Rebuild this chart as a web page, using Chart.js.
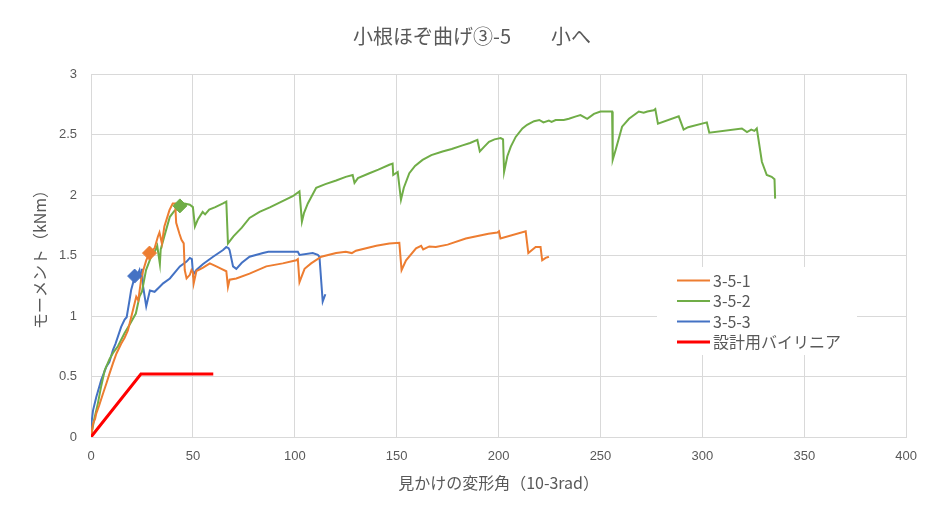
<!DOCTYPE html>
<html>
<head>
<meta charset="utf-8">
<script src="https://cdn.jsdelivr.net/npm/chart.js@4/dist/chart.umd.min.js"></script>
<style>
  html, body { margin: 0; padding: 0; background: #ffffff; }
  #wrap { width: 929px; height: 518px; }
</style>
</head>
<body>
<div id="wrap"><canvas id="c" width="929" height="518"></canvas></div>
<script>
// Moment vs. apparent rotation angle for the three specimens plus the design bilinear line.
const chartTitle = '小根ほぞ曲げ③-5　　小へ';
const xAxisTitle = '見かけの変形角（10-3rad）';
const yAxisTitle = 'モーメント（kNm）';
const seriesNames = ['3-5-1', '3-5-2', '3-5-3', '設計用バイリニア'];
const seriesColors = ['#ED7D31', '#70AD47', '#4472C4', '#FF0000'];
const xTicks = [0, 50, 100, 150, 200, 250, 300, 350, 400];
const yTicks = [0, 0.5, 1, 1.5, 2, 2.5, 3];

// [angle (10^-3 rad), moment (kNm)]
const s351 = [
  [0,0],[1,0.11],[2,0.15],[2.6,0.195],[4,0.26],[5.9,0.36],[7.5,0.44],[9,0.52],[10.8,0.61],
  [12.5,0.69],[14.8,0.77],[16.5,0.82],[18.1,0.88],[20.6,1.05],[22.2,1.16],[23.2,1.13],
  [24.6,1.30],[25.5,1.37],[27.1,1.46],[28.7,1.52],[31.2,1.56],[32.8,1.655],[33.6,1.69],
  [34.8,1.60],[36,1.74],[38.5,1.875],[40.1,1.93],[41.3,1.93],[41.8,1.77],[43.4,1.68],
  [44.4,1.63],[45.5,1.60],[46,1.38],[46.9,1.31],[48.5,1.34],[49.3,1.38],[50,1.36],
  [50.4,1.27],[51.7,1.37],[55,1.40],[58.3,1.435],[61.5,1.41],[64,1.39],[66.4,1.37],
  [67.2,1.24],[68,1.30],[71.3,1.31],[77.8,1.35],[86,1.41],[94.1,1.435],[100.7,1.46],
  [101.5,1.47],[102.3,1.28],[104.8,1.39],[108,1.435],[113,1.49],[120.3,1.52],[125,1.53],
  [128,1.52],[130,1.54],[135,1.56],[140,1.58],[146.4,1.60],[151.3,1.605],[152.4,1.38],
  [154.6,1.46],[159.5,1.56],[162,1.58],[163,1.55],[166,1.575],[169.2,1.57],[175,1.59],
  [183.9,1.64],[192.1,1.67],[195,1.68],[199.4,1.69],[200.2,1.70],[200.9,1.64],[213.3,1.70],
  [214.6,1.52],[218.2,1.57],[220.6,1.57],[221.4,1.46],[223.1,1.48],[224.7,1.49]
];
const s352 = [
  [0,0],[1.5,0.14],[3.4,0.28],[5,0.42],[6.7,0.55],[9,0.64],[11,0.70],[13.2,0.75],
  [16.5,0.86],[19,0.93],[22,1.02],[23.8,1.16],[25,1.20],[27,1.38],[29.5,1.49],[31,1.52],
  [32.5,1.58],[33.8,1.43],[34.2,1.55],[36,1.66],[38.7,1.82],[41,1.87],[43.6,1.90],
  [46,1.93],[48.5,1.92],[50,1.90],[51,1.74],[52.5,1.80],[54.8,1.86],[56,1.84],[58,1.88],
  [61,1.90],[64.8,1.93],[66.4,1.945],[67.2,1.60],[70,1.66],[74,1.73],[77.8,1.81],
  [82.7,1.86],[88,1.90],[94,1.95],[99,1.99],[102.3,2.03],[103.5,1.78],[104.5,1.85],
  [106.4,1.93],[110.5,2.06],[115,2.09],[120.3,2.12],[125,2.15],[128.4,2.165],[129.3,2.10],
  [131,2.14],[136.6,2.18],[141,2.21],[146.4,2.25],[148,2.26],[148.3,2.165],[150.5,2.19],
  [152.1,1.96],[153.5,2.06],[156.2,2.18],[159,2.24],[162.7,2.29],[167,2.33],[172.5,2.36],
  [177,2.38],[182.3,2.41],[186,2.43],[189.6,2.455],[190.8,2.36],[193,2.40],[195.3,2.44],
  [198,2.46],[201,2.47],[202.2,2.46],[202.7,2.19],[204.3,2.32],[206,2.40],[208.4,2.48],
  [211.7,2.55],[214,2.58],[217.4,2.61],[220,2.62],[222,2.60],[224.7,2.615],[226,2.605],
  [228,2.62],[232,2.62],[234.5,2.63],[238,2.65],[240.2,2.66],[243.5,2.63],[246.8,2.67],
  [250,2.69],[255.7,2.69],[256,2.29],[257.4,2.37],[260.6,2.565],[264,2.63],[268.8,2.69],
  [271.2,2.68],[273,2.69],[276.1,2.70],[276.9,2.71],[278.2,2.59],[288.4,2.65],[290.8,2.54],
  [293,2.56],[302.2,2.60],[303.4,2.515],[319.4,2.55],[321.9,2.52],[324,2.54],[325.5,2.53],
  [326.7,2.55],[329.2,2.275],[331.6,2.165],[334,2.15],[335.4,2.13],[335.7,1.97]
];
const s353 = [
  [0,0],[0.2,0.11],[1,0.22],[2.6,0.33],[5,0.47],[7.5,0.58],[9,0.62],[10.8,0.72],[12,0.77],
  [14.8,0.91],[16.5,0.97],[17.5,0.99],[18.9,1.13],[19.7,1.215],[21.4,1.32],[22.5,1.33],
  [23.8,1.38],[24.6,1.31],[25,1.39],[25.5,1.25],[27.1,1.08],[28.9,1.21],[31.2,1.20],
  [33.6,1.24],[35.4,1.27],[38.7,1.31],[43.6,1.41],[46.9,1.45],[48.5,1.48],[49.5,1.47],
  [50.1,1.34],[51.7,1.38],[55,1.43],[59.9,1.49],[64.8,1.545],[66.4,1.57],[67.5,1.56],
  [68,1.545],[69.7,1.41],[71.3,1.39],[74,1.44],[77.8,1.49],[84.4,1.52],[87,1.53],
  [90.9,1.53],[99,1.53],[101.5,1.53],[102.3,1.505],[108.8,1.52],[111.3,1.505],[112.1,1.49],
  [113.7,1.12],[115,1.18]
];
const designLine = [[0,0],[24.5,0.52],[60,0.52]];
// Maximum-moment markers (diamonds) for each specimen
const peakMarks = [[28.7,1.52],[43.6,1.91],[21.4,1.33]];

const toXY = arr => arr.map(p => ({ x: p[0], y: p[1] }));

const lineSets = [s351, s352, s353, designLine].map((arr, i) => ({
  label: seriesNames[i],
  data: toXY(arr),
  showLine: true,
  borderColor: seriesColors[i],
  backgroundColor: seriesColors[i],
  borderWidth: i === 3 ? 3 : 2,
  pointRadius: 0,
  tension: 0,
  inLegend: true,
  order: i === 3 ? 1 : 2 + i
}));

const markerSets = peakMarks.map((p, i) => ({
  label: seriesNames[i] + ' max',
  data: toXY([p]),
  showLine: false,
  pointStyle: 'rectRot',
  pointRadius: 7,
  pointBorderWidth: 1,
  borderColor: seriesColors[i],
  backgroundColor: seriesColors[i],
  inLegend: false,
  order: 0
}));

const decor = {
  id: 'decor',
  beforeDraw(chart) {
    const ctx = chart.ctx;
    ctx.save();
    ctx.fillStyle = '#ffffff';
    ctx.fillRect(0, 0, chart.width, chart.height);
    ctx.font = '20px "Noto Sans CJK JP", sans-serif';
    ctx.fillStyle = '#595959';
    ctx.textAlign = 'center';
    ctx.textBaseline = 'middle';
    ctx.fillText(chartTitle, 472, 36);
    ctx.restore();
  },
  afterDatasetsDraw(chart) {
    const ctx = chart.ctx;
    const box = { x: 657, y: 267, w: 200, h: 88 };
    ctx.save();
    ctx.fillStyle = '#ffffff';
    ctx.fillRect(box.x, box.y, box.w, box.h);
    const items = chart.data.datasets.filter(d => d.inLegend);
    const rowH = 20.5;
    items.forEach((d, i) => {
      const cy = box.y + 13.5 + i * rowH;
      ctx.strokeStyle = d.borderColor;
      ctx.lineWidth = d.borderWidth;
      ctx.beginPath();
      ctx.moveTo(677, cy);
      ctx.lineTo(710, cy);
      ctx.stroke();
      ctx.fillStyle = '#595959';
      ctx.font = '16px "Noto Sans CJK JP", sans-serif';
      ctx.textAlign = 'left';
      ctx.textBaseline = 'middle';
      ctx.fillText(d.label, 713, cy);
    });
    ctx.restore();
  }
};

new Chart(document.getElementById('c'), {
  type: 'scatter',
  data: { datasets: [...markerSets, ...lineSets] },
  plugins: [decor],
  options: {
    responsive: false,
    animation: false,
    devicePixelRatio: 1,
    layout: { padding: { left: 0, right: 21, top: 74, bottom: 0 } },
    plugins: {
      legend: { display: false },
      title: { display: false },
      tooltip: { enabled: false }
    },
    scales: {
      x: {
        type: 'linear',
        min: xTicks[0],
        max: xTicks[xTicks.length - 1],
        afterBuildTicks: s => { s.ticks = xTicks.map(v => ({ value: v })); },
        afterFit: s => { s.height = 81; },
        ticks: {
          color: '#595959',
          font: { family: '"Liberation Sans", sans-serif', size: 13 },
          padding: 12,
          maxRotation: 0,
          callback: v => String(v)
        },
        grid: { color: '#d9d9d9', drawTicks: false },
        border: { color: '#d9d9d9' },
        title: {
          display: true,
          text: xAxisTitle,
          color: '#595959',
          font: { family: '"Noto Sans CJK JP", sans-serif', size: 16 },
          padding: { top: 0, bottom: 25 }
        }
      },
      y: {
        type: 'linear',
        min: yTicks[0],
        max: yTicks[yTicks.length - 1],
        afterBuildTicks: s => { s.ticks = yTicks.map(v => ({ value: v })); },
        afterFit: s => { s.width = 91; },
        ticks: {
          color: '#595959',
          font: { family: '"Liberation Sans", sans-serif', size: 13 },
          padding: 14,
          callback: v => String(v)
        },
        grid: { color: '#d9d9d9', drawTicks: false },
        border: { color: '#d9d9d9' },
        title: {
          display: true,
          text: yAxisTitle,
          color: '#595959',
          font: { family: '"Noto Sans CJK JP", sans-serif', size: 16 },
          padding: { top: 30, bottom: 0 }
        }
      }
    }
  }
});
</script>
</body>
</html>
